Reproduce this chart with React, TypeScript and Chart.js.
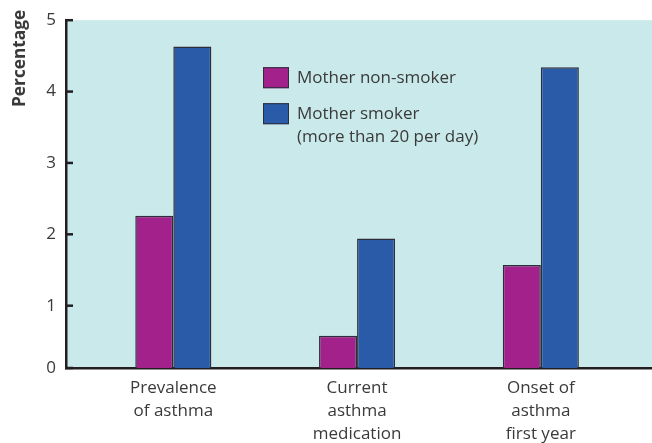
import React, { useEffect, useRef } from "react";
import { Chart, registerables } from "chart.js";

Chart.register(...registerables);

// ---- data ----
const categories: string[][] = [
  ["Prevalence", "of asthma"],
  ["Current", "asthma", "medication"],
  ["Onset of", "asthma", "first year"],
];
const categoryPositions = [0, 1, 2];
const nonSmoker = [2.26, 0.58, 1.57];
const smoker = [4.63, 1.94, 4.34];
const seriesLabels: string[][] = [
  ["Mother non-smoker"],
  ["Mother smoker", "(more than 20 per day)"],
];
const yTickValues = [0.127, 1, 2, 3, 4, 5];
const yTickLabels = ["0", "1", "2", "3", "4", "5"];
const yAxisTitle = "Percentage";

// ---- style ----
const FONT = "'Open Sans', 'Liberation Sans', sans-serif";
const TEXT_COLOR = "#3a3a3a";
const AXIS_COLOR = "#231f20";
const BG = "#c9e9ea";
const MAGENTA = "#a2218b";
const BLUE = "#2a5ba8";
const BAR_BORDER = "#2e2e3a";
const FONT_SIZE = 17;

const bgPlugin = {
  id: "bgPlugin",
  beforeDraw(chart: any) {
    const { ctx, chartArea } = chart;
    const { left, top, right, bottom } = chartArea;
    ctx.save();
    ctx.fillStyle = BG;
    ctx.fillRect(left, top, right - left, bottom - top);
    ctx.restore();
  },
};

const extrasPlugin = {
  id: "extrasPlugin",
  afterDraw(chart: any) {
    const { ctx, chartArea } = chart;
    const yScale = chart.scales.y;
    const left = chartArea.left;
    ctx.save();
    // inward tick marks
    ctx.strokeStyle = AXIS_COLOR;
    ctx.lineWidth = 2.5;
    yScale.ticks.forEach((t: any) => {
      const py = yScale.getPixelForValue(t.value);
      ctx.beginPath();
      ctx.moveTo(left - 1, py);
      ctx.lineTo(left + 7, py);
      ctx.stroke();
    });

    // axis title
    ctx.fillStyle = TEXT_COLOR;
    ctx.font = `bold 17.3px ${FONT}`;
    ctx.textAlign = "left";
    ctx.textBaseline = "alphabetic";
    ctx.save();
    ctx.translate(25, 107);
    ctx.rotate(-Math.PI / 2);
    ctx.fillText(yAxisTitle, 0, 0);
    ctx.restore();

    // legend
    const lx = left + 197;
    const boxTops = [chartArea.top + 47, chartArea.top + 83];
    const colors = [MAGENTA, BLUE];
    ctx.font = `${FONT_SIZE}px ${FONT}`;
    seriesLabels.forEach((lines, i) => {
      const by = boxTops[i];
      ctx.fillStyle = colors[i];
      ctx.fillRect(lx, by, 26, 21);
      ctx.strokeStyle = BAR_BORDER;
      ctx.lineWidth = 1;
      ctx.strokeRect(lx + 0.5, by + 0.5, 25, 20);
      ctx.fillStyle = TEXT_COLOR;
      lines.forEach((line, j) => {
        ctx.fillText(line, lx + 34, by + 16 + j * 22.5);
      });
    });
    ctx.restore();
  },
};

export default function App() {
  const canvasRef = useRef<HTMLCanvasElement | null>(null);

  useEffect(() => {
    if (!canvasRef.current) return;
    const chart = new Chart(canvasRef.current, {
      type: "bar",
      data: {
        datasets: [
          {
            label: seriesLabels[0].join(" "),
            data: categoryPositions.map((x, i) => ({ x, y: nonSmoker[i] })),
            backgroundColor: MAGENTA,
            borderColor: BAR_BORDER,
            borderWidth: 1.5,
            base: yTickValues[0],
          },
          {
            label: seriesLabels[1].join(" "),
            data: categoryPositions.map((x, i) => ({ x, y: smoker[i] })),
            backgroundColor: BLUE,
            borderColor: BAR_BORDER,
            borderWidth: 1.5,
            base: yTickValues[0],
          },
        ],
      },
      options: {
        animation: false,
        responsive: false,
        devicePixelRatio: 1,
        layout: { padding: { top: 20, left: 0, right: 0, bottom: 0 } },
        datasets: {
          bar: { categoryPercentage: 0.414, barPercentage: 1 },
        },
        plugins: {
          legend: { display: false },
          tooltip: { enabled: false },
        },
        scales: {
          x: {
            type: "linear",
            min: -0.584,
            max: 2.605,
            offset: false,
            z: 1,
            afterBuildTicks: (s: any) => {
              s.ticks = categoryPositions.map((v) => ({ value: v }));
            },
            afterFit: (s: any) => {
              s.height = 75;
            },
            grid: { display: false, drawTicks: false },
            border: { display: true, color: AXIS_COLOR, width: 2.5 },
            ticks: {
              autoSkip: false,
              maxRotation: 0,
              padding: 8,
              color: TEXT_COLOR,
              font: { family: FONT, size: FONT_SIZE, lineHeight: 1.38 },
              callback: (_v: any, i: number) => categories[i],
            },
          },
          y: {
            type: "linear",
            min: yTickValues[0],
            max: 5,
            beginAtZero: false,
            z: 1,
            afterBuildTicks: (s: any) => {
              s.ticks = yTickValues.map((v) => ({ value: v }));
            },
            afterFit: (s: any) => {
              s.width = 66;
            },
            grid: { display: false, drawTicks: false },
            border: { display: true, color: AXIS_COLOR, width: 2.5 },
            ticks: {
              padding: 10,
              color: TEXT_COLOR,
              font: { family: FONT, size: FONT_SIZE },
              callback: (_v: any, i: number) => yTickLabels[i],
            },
          },
        },
      } as any,
      plugins: [bgPlugin, extrasPlugin],
    });
    return () => chart.destroy();
  }, []);

  return (
    <div style={{ position: "absolute", left: 0, top: 0, width: 652, height: 443, background: "#fff" }}>
      <canvas ref={canvasRef} width={652} height={443} style={{ width: 652, height: 443, display: "block" }} />
    </div>
  );
}
